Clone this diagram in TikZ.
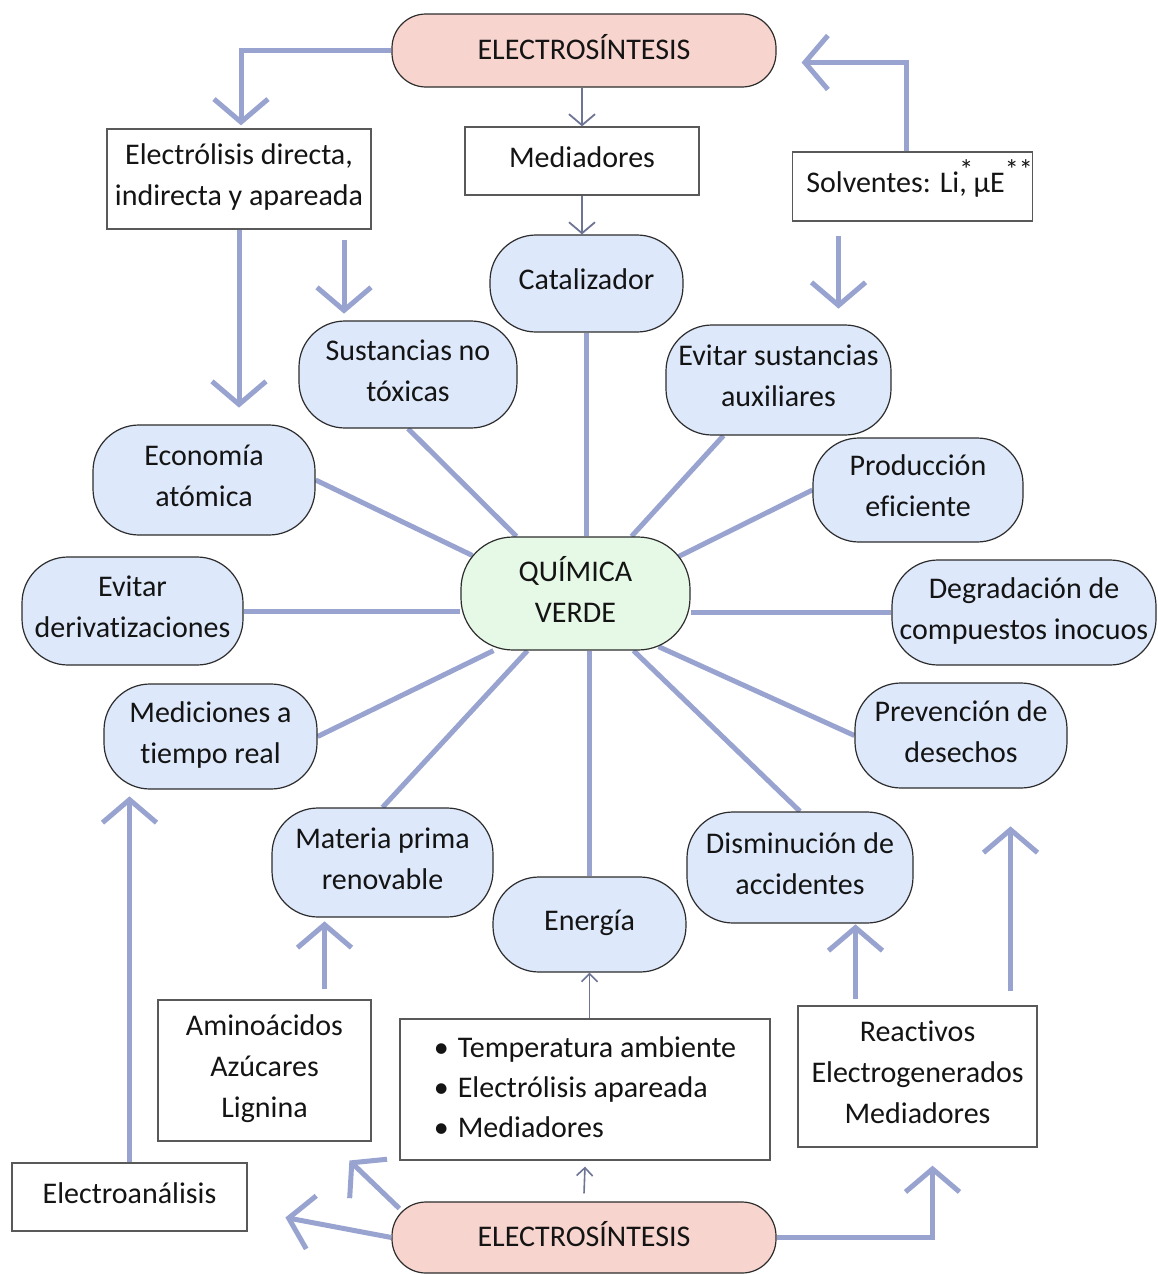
\documentclass[tikz,border=0pt]{standalone}
\usepackage{fontspec}
\setmainfont{Carlito}[Ligatures=NoCommon]
\usetikzlibrary{arrows.meta,calc,backgrounds}
\definecolor{lav}{RGB}{152,163,208}
\definecolor{thinc}{RGB}{110,116,148}
\definecolor{bluef}{RGB}{221,232,250}
\definecolor{pinkf}{RGB}{248,212,206}
\definecolor{greenf}{RGB}{230,248,230}
\definecolor{bord}{RGB}{45,45,45}
\begin{document}
\begin{tikzpicture}[x=1pt,y=-1pt,
  font=\fontsize{30}{41}\selectfont,
  every node/.style={align=center, inner sep=0pt, text=black!92, text depth=8pt},
  sz/.style 2 args={minimum width=#1pt, minimum height=#2pt},
  gbox/.style={draw=bord, line width=1.2pt, fill=bluef, rounded corners=46pt},
  pbox/.style={draw=bord, line width=1.2pt, fill=pinkf, rounded corners=34pt},
  qbox/.style={draw=bord, line width=1.2pt, fill=greenf, rounded corners=52pt},
  wbox/.style={draw=black!65, line width=1.3pt, fill=white},
  spoke/.style={draw=lav, line width=5pt},
  bigarr/.style={draw=lav, line width=5pt, -{Straight Barb[length=23pt,width=54pt]}},
  thinarr/.style={draw=thinc, line width=1.8pt, -{Straight Barb[length=11pt,width=26pt]}},
  tinyarr/.style={draw=thinc, line width=1.6pt, -{Straight Barb[length=8pt,width=16pt]}},
]
\useasboundingbox (0,0) rectangle (1157,1274);

% top and bottom
\node[pbox, sz={384}{73}] (top) at (584,50.5) {ELECTROSÍNTESIS};
\node[pbox, sz={384}{71}] (bot) at (584,1237.5) {ELECTROSÍNTESIS};

% white boxes
\node[wbox, sz={264}{100}] (ebox) at (239,179) {Electrólisis directa,\\indirecta y apareada};
\node[wbox, sz={234}{68}] (med) at (582,161) {Mediadores};
\node[wbox, sz={237}{69}] (solv) at (912.5,186.5) {\hspace*{14pt}Solventes: Li\rlap{\smash{\raisebox{13pt}{\fontsize{28}{28}\selectfont *}}}, µE\smash{\raisebox{13pt}{\fontsize{28}{28}\selectfont **}}};
\node[wbox, sz={213}{141}] (amino) at (264.5,1070.5) {Aminoácidos\\Azúcares\\Lignina};
\node[wbox, sz={370}{141}, text depth={}] (bullet) at (585,1089.5) {\begin{tabular}{@{}l@{}}\makebox[24pt][l]{\textbullet}Temperatura ambiente\\[-1pt]\makebox[24pt][l]{\textbullet}Electrólisis apareada\\[-1pt]\makebox[24pt][l]{\textbullet}Mediadores\end{tabular}};
\node[wbox, sz={239}{141}] (react) at (917.5,1076.5) {Reactivos\\Electrogenerados\\Mediadores};
\node[wbox, sz={235}{68}] (elana) at (129.5,1197) {Electroanálisis};

% green center
\node[qbox, sz={229}{113}] (qv) at (575.5,593.5) {QUÍMICA\\VERDE};

% blue nodes
\node[gbox, sz={193}{97}] (cat) at (586.5,283.5) {Catalizador};
\node[gbox, sz={218}{107}] (sust) at (408,374.5) {Sustancias no\\tóxicas};
\node[gbox, sz={225}{110}] (evit) at (778.5,380) {Evitar sustancias\\auxiliares};
\node[gbox, sz={222}{110}] (econ) at (204,480) {Economía\\atómica};
\node[gbox, sz={210}{104}] (prod) at (918,490) {Producción\\eficiente};
\node[gbox, sz={221}{108}] (deriv) at (132.5,611) {Evitar\\derivatizaciones};
\node[gbox, sz={264}{105}] (degr) at (1024,612.5) {Degradación de\\compuestos inocuos};
\node[gbox, sz={213}{105}] (medic) at (210.5,736.5) {Mediciones a\\tiempo real};
\node[gbox, sz={212}{105}] (prev) at (961,735.5) {Prevención de\\desechos};
\node[gbox, sz={221}{109}] (mat) at (382.5,862.5) {Materia prima\\renovable};
\node[gbox, sz={226}{111}] (dis) at (800,867.5) {Disminución de\\accidentes};
\node[gbox, sz={193}{95}] (ener) at (589.5,924.5) {Energía};

\begin{scope}[on background layer]
\fill[white] (0,0) rectangle (1157,1274);
% spokes
\draw[spoke] (sust.south) -- ([xshift=-59pt]qv.north);
\draw[spoke] (cat.south) -- (cat.south |- qv.north);
\draw[spoke] ([xshift=-55pt]evit.south) -- ([xshift=56pt]qv.north);
\draw[spoke] (econ.east) -- ([xshift=12pt,yshift=38pt]qv.west);
\draw[spoke] (prod.west) -- ([xshift=-14pt,yshift=36pt]qv.east);
\draw[spoke] (deriv.east) -- (deriv.east -| qv.west);
\draw[spoke] (degr.west) -- (degr.west -| qv.east);
\draw[spoke] (medic.east) -- ([xshift=-82pt]qv.south);
\draw[spoke] (prev.west) -- ([xshift=83pt,yshift=4pt]qv.south);
\draw[spoke] (mat.north) -- ([xshift=-48pt]qv.south);
\draw[spoke] (dis.north) -- ([xshift=58pt]qv.south);
\draw[spoke] (ener.north) -- (ener.north |- qv.south);
% connectors touching nodes
\draw[lav, line width=5pt] (top.west) -- ++(-20,0);
\draw[lav, line width=5pt] (bot.east) -- ++(20,0);
\end{scope}

% big arrows
\draw[bigarr] (top.west) -| ([xshift=2pt,yshift=3pt]ebox.north);
\draw[bigarr] (ebox.south) -- ++(0,178);
\draw[bigarr] ([xshift=105pt,yshift=-10pt]ebox.south) -- ++(0,74);
\draw[bigarr] ([xshift=-6pt]solv.north) |- ([xshift=25pt,yshift=-12pt]top.east);
\draw[bigarr] ([xshift=-74pt,yshift=-14pt]solv.south) -- ++(0,73);
\draw[bigarr] (elana.north) -- ++(0,-366);
\draw[bigarr] ([xshift=60pt,yshift=10pt]amino.north) -- ++(0,-68);
\draw[bigarr] ([xshift=-62pt,yshift=6pt]react.north) -- ++(0,-75);
\draw[bigarr] ([xshift=93pt,yshift=14pt]react.north) -- ++(0,-165);
\draw[bigarr] (bot.east) -| ([xshift=15pt,yshift=-18pt]react.south);
\draw[bigarr] ([xshift=8pt,yshift=29pt]bot.west) -- ++(-50,-48);
\draw[bigarr] (bot.west) -- ++(-106,-20);

% thin arrows
\draw[thinarr] (top.south -| med.north) -- (med.north);
\draw[thinarr] (med.south) -- (med.south |- cat.north);
\draw[tinyarr] (bullet.north -| ener.south) -- (ener.south);
\draw[tinyarr] ([yshift=8pt]bot.north) -- ([yshift=-6pt]bullet.south);
\end{tikzpicture}
\end{document}
